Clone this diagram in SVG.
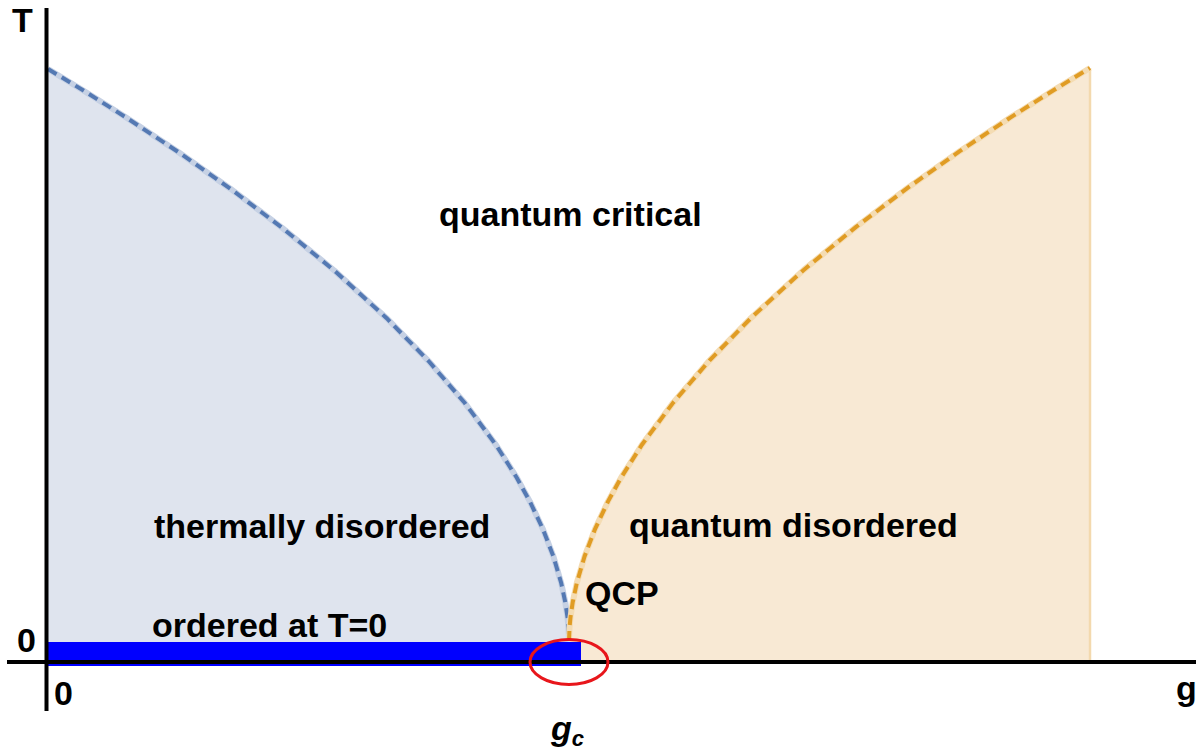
<svg xmlns="http://www.w3.org/2000/svg" width="1202" height="753" viewBox="0 0 1202 753">
<style>
.lbl{font-family:"Liberation Sans",Arial,sans-serif;font-weight:bold;font-size:34px;fill:#000}
.ax{stroke:#000;stroke-width:4;fill:none}
.under-b{fill:none;stroke:#C6D1E4;stroke-width:6;stroke-linejoin:round}
.under-o{fill:none;stroke:#F4DCB3;stroke-width:6;stroke-linejoin:round}
.dash-b{fill:none;stroke:#5479B3;stroke-width:4;stroke-dasharray:10 6}
.dash-o{fill:none;stroke:#E09C24;stroke-width:4;stroke-dasharray:10 6}
</style>
<rect width="1202" height="753" fill="#fff"/>
<g id="region-thermal">
<path fill="#DFE4EE" d="M48,69 L84.47,91.19 L126.15,117.51 L178.25,152 L230.35,188.72 L282.45,228.07 L334.55,270.8 L386.65,318.22 L428.33,360.78 L464.8,403.05 L496.06,445.09 L516.9,477.92 L529.93,501.6 L542.95,529.23 L553.37,556.4 L561.19,583 L565.35,602.73 L567.44,616.88 L568.48,627.75 L569,641 L569,662 L48,662 Z"/>
</g>
<g id="region-quantum-disordered">
<path fill="#F8E9D4" d="M569,641 L569.52,627.72 L570.56,616.84 L572.65,602.67 L576.81,582.9 L584.63,556.25 L595.05,529.04 L608.08,501.36 L621.1,477.64 L641.94,444.75 L673.2,402.63 L709.67,360.29 L751.35,317.66 L803.45,270.15 L855.55,227.35 L907.65,187.93 L959.75,151.14 L1011.85,116.59 L1053.53,90.23 L1090,68 L1090,662 L569,662 Z"/>
<line x1="1090" y1="68" x2="1090" y2="661" stroke="#F3D9AE" stroke-width="2.5"/>
</g>
<g id="connectors">
<path id="crossover-left-under" class="under-b" d="M48,69 L84.47,91.19 L126.15,117.51 L178.25,152 L230.35,188.72 L282.45,228.07 L334.55,270.8 L386.65,318.22 L428.33,360.78 L464.8,403.05 L496.06,445.09 L516.9,477.92 L529.93,501.6 L542.95,529.23 L553.37,556.4 L561.19,583 L565.35,602.73 L567.44,616.88 L568.48,627.75 L569,641"/>
<path id="crossover-left" class="dash-b" d="M48,69 L84.47,91.19 L126.15,117.51 L178.25,152 L230.35,188.72 L282.45,228.07 L334.55,270.8 L386.65,318.22 L428.33,360.78 L464.8,403.05 L496.06,445.09 L516.9,477.92 L529.93,501.6 L542.95,529.23 L553.37,556.4 L561.19,583 L565.35,602.73 L567.44,616.88 L568.48,627.75 L569,641"/>
<path id="crossover-right-under" class="under-o" d="M569,641 L569.52,627.72 L570.56,616.84 L572.65,602.67 L576.81,582.9 L584.63,556.25 L595.05,529.04 L608.08,501.36 L621.1,477.64 L641.94,444.75 L673.2,402.63 L709.67,360.29 L751.35,317.66 L803.45,270.15 L855.55,227.35 L907.65,187.93 L959.75,151.14 L1011.85,116.59 L1053.53,90.23 L1090,68"/>
<path id="crossover-right" class="dash-o" d="M569,641 L569.52,627.72 L570.56,616.84 L572.65,602.67 L576.81,582.9 L584.63,556.25 L595.05,529.04 L608.08,501.36 L621.1,477.64 L641.94,444.75 L673.2,402.63 L709.67,360.29 L751.35,317.66 L803.45,270.15 L855.55,227.35 L907.65,187.93 L959.75,151.14 L1011.85,116.59 L1053.53,90.23 L1090,68"/>
</g>
<g id="ordered-bar">
<rect x="48" y="642" width="533" height="24" fill="#0000FF"/>
</g>
<g id="axes">
<line class="ax" x1="46.5" y1="8" x2="46.5" y2="711"/>
<line class="ax" x1="7" y1="662" x2="1196" y2="662"/>
</g>
<g id="qcp">
<ellipse cx="569" cy="662" rx="39" ry="22.5" fill="none" stroke="#E8161B" stroke-width="3"/>
<text class="lbl" x="585" y="605">QCP</text>
</g>
<g id="labels">
<text class="lbl" x="12" y="32">T</text>
<text class="lbl" x="17" y="652">0</text>
<text class="lbl" x="54" y="705">0</text>
<text class="lbl" x="1176" y="700">g</text>
<text class="lbl" x="439" y="226">quantum critical</text>
<text class="lbl" x="154" y="538">thermally disordered</text>
<text class="lbl" x="629" y="537">quantum disordered</text>
<text class="lbl" x="152" y="637">ordered at T=0</text>
<text class="lbl" x="551" y="740" font-style="italic">g<tspan font-size="22" dy="6">c</tspan></text>
</g>
</svg>
